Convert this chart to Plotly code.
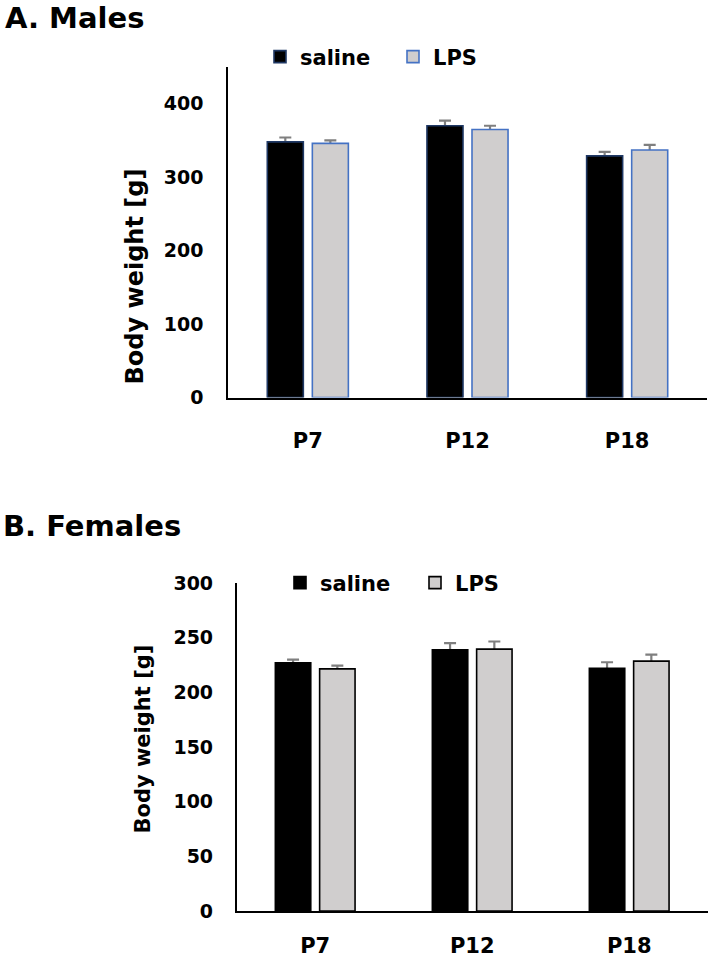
import plotly.graph_objects as go

categories = ["P7", "P12", "P18"]
males_saline = [348, 370, 329]
males_saline_err = [6, 7, 5.5]
males_lps = [346, 365, 337]
males_lps_err = [4, 5, 7]
females_saline = [227, 239, 222]
females_saline_err = [3, 6, 5.5]
females_lps = [221.5, 239.5, 228.5]
females_lps_err = [3, 7, 6]

FONT = "DejaVu Sans"
W, H = 714, 960

BAR_W = 0.2257
GAP = 0.0282
OFF_SAL = -(BAR_W + GAP)
OFF_LPS = GAP

fig = go.Figure()

err_style = dict(type="data", color="#7f7f7f", thickness=2.2, width=6, visible=True)


def add_pair(y, err, off, fill, line, name, xa, ya, leg):
    # error bars first (transparent bar), real bar on top hides the lower half
    fig.add_trace(go.Bar(x=categories, y=y, width=BAR_W, offset=off,
                         marker=dict(color="rgba(0,0,0,0)", line=dict(width=0)),
                         error_y=dict(array=err, **err_style), showlegend=False,
                         hoverinfo="skip", xaxis=xa, yaxis=ya))
    fig.add_trace(go.Bar(x=categories, y=y, width=BAR_W, offset=off, name=name,
                         marker=dict(color=fill, line=dict(color=line, width=1.6)),
                         xaxis=xa, yaxis=ya, legend=leg))


add_pair(males_saline, males_saline_err, OFF_SAL, "black", "#1f3864", "saline", "x", "y", "legend")
add_pair(males_lps, males_lps_err, OFF_LPS, "#d0cece", "#4472c4", "LPS", "x", "y", "legend")
add_pair(females_saline, females_saline_err, OFF_SAL, "black", "black", "saline", "x2", "y2", "legend2")
add_pair(females_lps, females_lps_err, OFF_LPS, "#d0cece", "black", "LPS", "x2", "y2", "legend2")

ytickfont = dict(family=FONT, size=19, color="black", weight="bold")
xtickfont = dict(family=FONT, size=21, color="black", weight="bold")

axis_common = dict(showline=True, linecolor="black", linewidth=1.6, showgrid=False,
                   zeroline=False, ticks="", automargin=False)

legfont = dict(family=FONT, size=21, color="black", weight="bold")

fig.update_layout(
    width=W, height=H,
    margin=dict(l=0, r=0, t=0, b=0, pad=0, autoexpand=False),
    paper_bgcolor="white", plot_bgcolor="white",
    barmode="overlay",
    font=dict(family=FONT, color="black"),
    showlegend=True,
    xaxis=dict(domain=[228 / W, 707 / W], anchor="y", range=[-0.5, 2.5],
               ticklabelstandoff=23, tickfont=xtickfont, **axis_common),
    yaxis=dict(domain=[(H - 397.5) / H, (H - 67) / H], anchor="x", range=[0, 450],
               tickvals=[0, 100, 200, 300, 400], ticklabelstandoff=19,
               tickfont=ytickfont, **axis_common),
    xaxis2=dict(domain=[236.7 / W, 707.7 / W], anchor="y2", range=[-0.5, 2.5],
                ticklabelstandoff=15, tickfont=xtickfont, **axis_common),
    yaxis2=dict(domain=[(H - 911) / H, (H - 583) / H], anchor="x2", range=[0, 300],
                dtick=50, ticklabelstandoff=18, tickfont=ytickfont, **axis_common),
    legend=dict(orientation="h", x=260 / W, y=1 - 57 / H, xanchor="left", yanchor="middle",
                font=legfont, bgcolor="rgba(0,0,0,0)", itemwidth=30, entrywidth=88),
    legend2=dict(orientation="h", x=280 / W, y=1 - 583 / H, xanchor="left", yanchor="middle",
                 font=legfont, bgcolor="rgba(0,0,0,0)", itemwidth=30, entrywidth=90),
    annotations=[
        dict(text="A. Males", x=3 / W, y=1 - 18 / H, xref="paper", yref="paper",
             xanchor="left", yanchor="middle", showarrow=False,
             font=dict(family=FONT, size=29, color="black", weight="bold")),
        dict(text="B. Females", x=1 / W, y=1 - 526 / H, xref="paper", yref="paper",
             xanchor="left", yanchor="middle", showarrow=False,
             font=dict(family=FONT, size=29, color="black", weight="bold")),
        dict(text="Body weight [g]", textangle=-90, x=134.5 / W, y=1 - 277 / H,
             xref="paper", yref="paper", xanchor="center", yanchor="middle", showarrow=False,
             font=dict(family=FONT, size=24, color="black", weight="bold")),
        dict(text="Body weight [g]", textangle=-90, x=142.5 / W, y=1 - 739 / H,
             xref="paper", yref="paper", xanchor="center", yanchor="middle", showarrow=False,
             font=dict(family=FONT, size=21, color="black", weight="bold")),
    ],
)

fig.write_html("out.html")
